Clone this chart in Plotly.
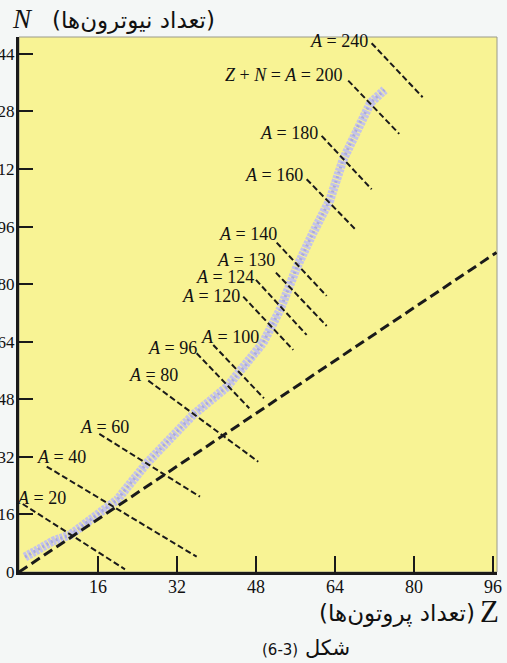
import plotly.graph_objects as go

# --- data ---
# isobar lines A = const (start / end points in Z, N)
A_values = [20, 40, 60, 80, 96, 100, 120, 124, 130, 140, 160, 180, 200, 240]
A_z_start = [0.75, 5.61, 16.26, 26.18, 35.98, 39.34, 45.41, 47.99, 52.03, 52.18, 58.25, 61.29, 66.67, 71.41]
A_n_start = [18.9, 29.3, 38.37, 53.19, 60.8, 63.11, 76.54, 81.18, 83.21, 91.55, 109.17, 121.21, 136.59, 146.98]
A_z_end = [21.46, 35.98, 36.65, 48.45, 46.63, 49.6, 55.54, 58.25, 62.3, 62.3, 68.37, 71.41, 77.0, 81.74]
A_n_end = [0.75, 4.25, 20.93, 30.66, 45.51, 48.29, 61.72, 65.89, 68.39, 76.73, 94.88, 106.39, 121.77, 131.97]

# N = Z line
nz_z = [0, 96.7]
nz_n = [0, 88.8]

# band of stable nuclei (centre line)
band_z = [1.21, 6.88, 10.33, 13.77, 19.84, 25.92, 35.23, 42.11, 47.38, 49.4, 52.85,
          56.29, 59.53, 62.97, 65.6, 68.56, 71.19, 74.03]
band_n = [4.17, 8.62, 10.29, 13.9, 20.02, 30.3, 43.65, 51.43, 59.77, 63.66, 72.84,
          84.79, 94.25, 103.42, 114.5, 123.7, 130.4, 134.0]

x_ticks = [16, 32, 48, 64, 80, 96]
y_ticks = [0, 16, 32, 48, 64, 80, 96, 112, 128, 144]

# label offsets (px) relative to the start of each line
label_dx = [45, 41, 32, 32, 2, 48, -1, 0, 1, 2, -2, -2, -3, -2]
label_dy = [6, 10, 7, 6, 5, 8, 1, 3, 13, 9, 4, 3, 6, 2]

SERIF = "Liberation Serif"
PERSIAN = "DejaVu Sans"

fig = go.Figure()

fig.add_trace(go.Scatter(
    x=band_z, y=band_n, mode="lines",
    line=dict(color="#c4c3e9", width=9, dash="3px,1px"),
    hoverinfo="skip", showlegend=False))
fig.add_trace(go.Scatter(
    x=band_z, y=band_n, mode="lines",
    line=dict(color="#abaadd", width=3, dash="2px,3px"),
    hoverinfo="skip", showlegend=False))

xs, ys = [], []
for z0, n0, z1, n1 in zip(A_z_start, A_n_start, A_z_end, A_n_end):
    xs += [z0, z1, None]
    ys += [n0, n1, None]
fig.add_trace(go.Scatter(
    x=xs, y=ys, mode="lines",
    line=dict(color="#1a1a1a", width=2, dash="6px,3px"),
    hoverinfo="skip", showlegend=False))

fig.add_trace(go.Scatter(
    x=nz_z, y=nz_n, mode="lines",
    line=dict(color="#1a1a1a", width=3, dash="10px,5px"),
    hoverinfo="skip", showlegend=False))

for a, z0, n0, dx, dy in zip(A_values, A_z_start, A_n_start, label_dx, label_dy):
    if a == 200:
        txt = "<i>Z</i> + <i>N</i> = <i>A</i> = 200"
    else:
        txt = f"<i>A</i> = {a}"
    fig.add_annotation(x=z0, y=n0, text=txt, showarrow=False,
                       xanchor="right", yanchor="middle", xshift=dx, yshift=dy,
                       font=dict(family=SERIF, size=18, color="#111"))

# axis titles and caption
fig.add_annotation(xref="paper", yref="paper", x=0.007, y=1.034, text="<i>N</i>",
                   showarrow=False, xanchor="center", yanchor="middle",
                   font=dict(family=SERIF, size=27, color="#111"))
fig.add_annotation(xref="paper", yref="paper", x=0.065, y=1.03, text="(تعداد نیوترون‌ها)",
                   showarrow=False, xanchor="left", yanchor="middle",
                   font=dict(family=PERSIAN, size=23, color="#111"))
fig.add_annotation(xref="paper", yref="paper", x=0.958, y=-0.077, text="(تعداد پروتون‌ها)",
                   showarrow=False, xanchor="right", yanchor="middle",
                   font=dict(family=PERSIAN, size=23, color="#111"))
fig.add_annotation(xref="paper", yref="paper", x=0.985, y=-0.073, text="Z",
                   showarrow=False, xanchor="center", yanchor="middle",
                   font=dict(family=SERIF, size=31, color="#111"))
fig.add_annotation(xref="paper", yref="paper", x=0.601, y=-0.142,
                   text="<span style='font-size:15px'>(6-3)</span> شکل",
                   showarrow=False, xanchor="center", yanchor="middle",
                   font=dict(family=PERSIAN, size=21, color="#111"))

# thin frame on top / right
fig.add_shape(type="rect", xref="paper", yref="paper", x0=0, x1=1, y0=0, y1=1,
              line=dict(color="#9a9a8a", width=1), layer="below")

fig.update_xaxes(range=[0, 96.8], tickvals=x_ticks, ticks="inside", ticklen=16,
                 tickwidth=2, tickcolor="#1a1a1a", showline=True, linewidth=3,
                 linecolor="#1a1a1a", showgrid=False, zeroline=False,
                 automargin=False, ticklabelstandoff=-4,
                 tickfont=dict(family=SERIF, size=18, color="#111"))
fig.update_yaxes(range=[0, 148.7], tickvals=y_ticks, ticks="inside", ticklen=14,
                 tickwidth=2, tickcolor="#1a1a1a", showline=True, linewidth=3,
                 linecolor="#1a1a1a", showgrid=False, zeroline=False,
                 automargin=False, ticklabelstandoff=-2,
                 tickfont=dict(family=SERIF, size=17, color="#111"))

fig.update_layout(
    width=507, height=663,
    margin=dict(l=19, r=10, t=37, b=91),
    paper_bgcolor="#f4f7f6",
    plot_bgcolor="#f8f394",
    showlegend=False,
)

# drop the default 8px page margin so the figure fills the window
fig.write_html("out.html", config={"displayModeBar": False},
               post_script="document.body.style.margin='0';")
